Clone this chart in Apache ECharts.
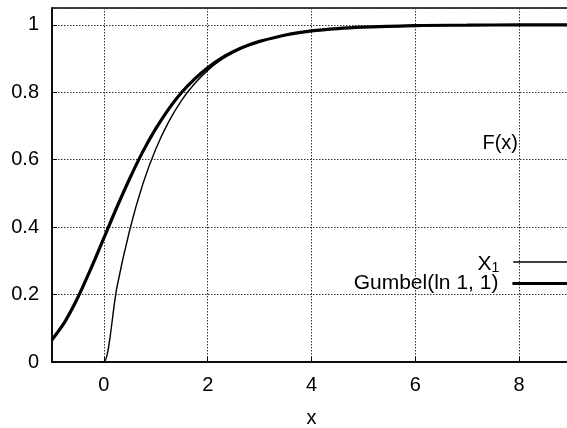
<!DOCTYPE html>
<html>
<head>
<meta charset="utf-8">
<script src="https://cdn.jsdelivr.net/npm/echarts@6/dist/echarts.min.js"></script>
<style>
html,body{margin:0;padding:0;background:#fff;}
#chart{width:567px;height:428px;}
</style>
</head>
<body>
<div id="chart"></div>
<script>
// Data
var gumbelX = [-1, -0.75, -0.5, -0.25, 0, 0.25, 0.5, 0.75, 1, 1.25, 1.5, 1.75, 2, 2.25, 2.5, 2.75, 3, 3.5, 4, 4.5, 5, 6, 7, 8, 9];
var gumbelY = [0.066, 0.120, 0.192, 0.277, 0.368, 0.459, 0.545, 0.624, 0.692, 0.751, 0.800, 0.840, 0.873, 0.900, 0.921, 0.938, 0.951, 0.970, 0.982, 0.989, 0.993, 0.998, 0.999, 1.000, 1.000];
var x1X = [-0.1, 0, 0.25, 0.5, 0.75, 1, 1.25, 1.5, 1.75, 2, 2.25, 2.5, 2.75, 3, 3.5, 4, 4.5, 5, 6, 7, 8, 9];
var x1Y = [0, 0, 0.221, 0.393, 0.528, 0.632, 0.713, 0.777, 0.826, 0.865, 0.895, 0.918, 0.936, 0.950, 0.970, 0.982, 0.989, 0.993, 0.998, 0.999, 1.000, 1.000];
var xRange = [-1, 9];
var yRange = [0, 1.05];
var seriesNames = ['X_1', 'Gumbel(ln 1, 1)'];
var yLabel = 'F(x)';
var xLabel = 'x';

function pairs(xs, ys) { return xs.map(function (v, i) { return [v, ys[i]]; }); }

var FONT = 'Liberation Sans';
var chart = echarts.init(document.getElementById('chart'), null, {renderer: 'canvas'});
var option = {
  animation: false,
  backgroundColor: '#fff',
  textStyle: {fontFamily: FONT},
  grid: {left: 52, top: 8, bottom: 66, right: -4, outerBoundsMode: 'none', containLabel: false,
    show: true, borderColor: '#000', borderWidth: 1.5, backgroundColor: 'transparent'},
  title: {text: yLabel, right: 44, top: 128, textStyle: {fontFamily: FONT, fontSize: 20, fontWeight: 'normal', color: '#000'}},
  legend: [
    {
      data: [seriesNames[0]], right: -10, top: 254, padding: 0, align: 'right',
      itemWidth: 63, itemHeight: 20, selectedMode: false,
      itemStyle: {opacity: 0},
      lineStyle: {color: '#000', width: 1.5},
      formatter: function () { return '{x|X}{s|1}'; },
      textStyle: {
        fontFamily: FONT, fontSize: 20, color: '#000', padding: [0, 9, 0, 0],
        rich: {
          x: {fontFamily: FONT, fontSize: 21, color: '#000', lineHeight: 20, verticalAlign: 'bottom'},
          s: {fontFamily: FONT, fontSize: 14, color: '#000', padding: [12, 0, 0, 0], verticalAlign: 'bottom'}
        }
      }
    },
    {
      data: [seriesNames[1]], right: -10, top: 273, padding: 0, align: 'right',
      itemWidth: 63, itemHeight: 20, selectedMode: false,
      itemStyle: {opacity: 0},
      lineStyle: {color: '#000', width: 3.2},
      formatter: function () { return 'Gumbel(ln 1, 1)'; },
      textStyle: {fontFamily: FONT, fontSize: 21, color: '#000', padding: [0, 9, 0, 0]}
    }
  ],
  xAxis: {
    type: 'value', min: xRange[0], max: xRange[1], splitNumber: 5,
    name: xLabel, nameLocation: 'middle', nameGap: 46,
    nameTextStyle: {fontFamily: FONT, fontSize: 20, color: '#000'},
    axisLine: {show: true, onZero: false, lineStyle: {color: '#000', width: 1.5}},
    axisTick: {show: true, inside: true, length: 5, lineStyle: {color: '#000'}},
    axisLabel: {fontFamily: FONT, fontSize: 20, color: '#000', margin: 13, showMinLabel: false, showMaxLabel: false},
    splitLine: {show: true, lineStyle: {color: '#333', width: 1, type: [1.5, 1.5]}}
  },
  yAxis: {
    type: 'value', min: yRange[0], max: yRange[1], interval: 0.2,
    axisLine: {show: true, onZero: false, lineStyle: {color: '#000', width: 1.5}},
    axisTick: {show: true, inside: true, length: 5, lineStyle: {color: '#000'}},
    axisLabel: {fontFamily: FONT, fontSize: 20, color: '#000', margin: 13, showMaxLabel: false,
      formatter: function (v) { return v > 1.01 ? '' : String(+v.toFixed(1)); }},
    splitLine: {show: true, lineStyle: {color: '#333', width: 1, type: [1.5, 1.5]}}
  },
  series: [
    {
      name: seriesNames[0], type: 'line', data: pairs(x1X, x1Y),
      symbol: 'none', showSymbol: false, smooth: 0.3,
      lineStyle: {color: '#000', width: 1.4}, itemStyle: {color: '#000'}, clip: true
    },
    {
      name: seriesNames[1], type: 'line', data: pairs(gumbelX, gumbelY),
      symbol: 'none', showSymbol: false, smooth: 0.3,
      lineStyle: {color: '#000', width: 3.2}, itemStyle: {color: '#000'}, clip: true
    }
  ]
};
chart.setOption(option);
</script>
</body>
</html>
